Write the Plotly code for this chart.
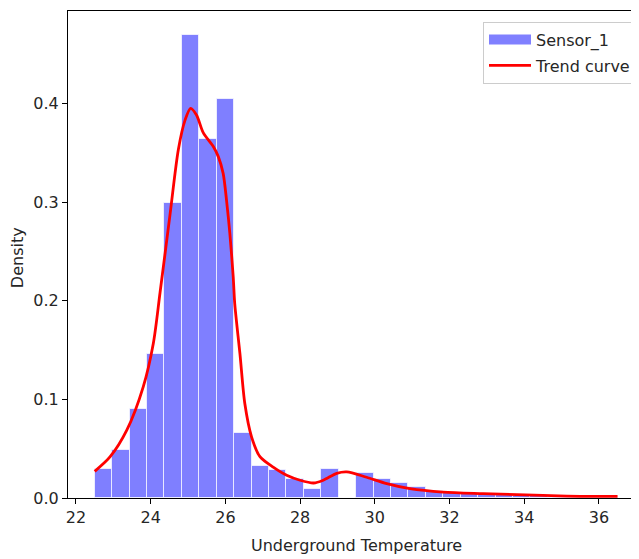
import plotly.graph_objects as go

# ---- data ----
bin_start = 22.5
bin_width = 0.46667
density = [0.0298, 0.0484, 0.090, 0.1457, 0.2986, 0.4693, 0.3635, 0.404,
           0.0659, 0.0325, 0.0288, 0.0197, 0.0095, 0.0298, 0.0, 0.025,
           0.019, 0.015, 0.011, 0.007, 0.005, 0.004, 0.003, 0.003,
           0.002, 0.002, 0.0015, 0.001, 0.001, 0.001]
bin_centers = [bin_start + bin_width * (i + 0.5) for i in range(len(density))]

curve_x = [22.5, 22.91, 23.36, 23.80, 24.07, 24.25, 24.52, 24.74, 24.92, 25.07,
           25.23, 25.41, 25.68, 25.81, 25.94, 26.03, 26.12, 26.21, 26.25, 26.39,
           26.52, 26.70, 26.93, 27.29, 27.64, 28.0, 28.36, 28.62, 28.98, 29.25,
           29.78, 30.32, 30.94, 31.83, 32.9, 33.8, 35.14, 36.5]
curve_y = [0.027, 0.0416, 0.0687, 0.1126, 0.1566, 0.208, 0.288, 0.353, 0.383, 0.395,
           0.388, 0.370, 0.356, 0.346, 0.329, 0.302, 0.268, 0.224, 0.197, 0.146,
           0.0957, 0.062, 0.0416, 0.031, 0.023, 0.018, 0.0152, 0.018, 0.025, 0.0265,
           0.021, 0.0146, 0.0095, 0.006, 0.0045, 0.0035, 0.002, 0.0017]

x_ticks = [22, 24, 26, 28, 30, 32, 34, 36]
y_ticks = [0.0, 0.1, 0.2, 0.3, 0.4]

FONT = "DejaVu Sans"
FS = 16
TXT = "#262626"
BAR_COLOR = "rgba(0,0,255,0.5)"

# page body has an 8px margin; figure is sized/offset to compensate
OFF = 8
W, H = 639 - OFF, 559 - OFF
L, T = 68 - OFF, 11 - OFF
BOTTOM = 497.7 - OFF
B = H - BOTTOM
PW, PH = W - L, BOTTOM - T

fig = go.Figure()
fig.add_trace(go.Bar(
    x=bin_centers, y=density, width=bin_width,
    marker=dict(color=BAR_COLOR, line=dict(color="rgba(255,255,255,0.7)", width=1)),
    showlegend=False, name="Sensor_1",
))
# legend entry for histogram (patch)
fig.add_trace(go.Scatter(
    x=[None], y=[None], mode="lines", name="Sensor_1",
    line=dict(color="#8080ff", width=12), legendgroup="a",
))
fig.add_trace(go.Scatter(
    x=curve_x, y=curve_y, mode="lines", name="Trend curve",
    line=dict(color="red", width=2.8, shape="spline", smoothing=0.8),
    legendgroup="b",
))

fig.update_layout(
    width=W, height=H,
    margin=dict(l=L, r=0, t=T, b=B, pad=0, autoexpand=False),
    plot_bgcolor="white", paper_bgcolor="white",
    font=dict(family=FONT, size=FS, color=TXT),
    bargap=0,
    legend=dict(
        x=(483 - 68) / PW, y=(497.7 - 21.7) / PH, xanchor="left", yanchor="top",
        bordercolor="#cccccc", borderwidth=1, bgcolor="rgba(255,255,255,0.8)",
        font=dict(family=FONT, size=FS, color=TXT),
        traceorder="grouped", tracegroupgap=2, itemwidth=42,
    ),
    xaxis=dict(
        range=[21.786, 37.074], tickvals=x_ticks, ticktext=[str(v) for v in x_ticks],
        showgrid=False, zeroline=False, showline=True, linecolor="black", linewidth=1,
        mirror=True, ticks="outside", ticklen=5, tickcolor="black",
        tickfont=dict(family=FONT, size=FS, color=TXT),
    ),
    yaxis=dict(
        range=[0, 0.4936], tickvals=y_ticks, ticktext=[f"{v:.1f}" for v in y_ticks],
        showgrid=False, zeroline=False, showline=True, linecolor="black", linewidth=1,
        mirror=False, ticks="outside", ticklen=5, tickcolor="black",
        tickfont=dict(family=FONT, size=FS, color=TXT),
    ),
    annotations=[
        dict(text="Underground Temperature", xref="paper", yref="paper",
             x=(356 - 68) / PW, y=(497.7 - 545) / PH, xanchor="center", yanchor="middle",
             showarrow=False, font=dict(family=FONT, size=FS, color=TXT)),
        dict(text="Density", xref="paper", yref="paper", textangle=-90,
             x=(17 - 68) / PW, y=(497.7 - 258) / PH, xanchor="center", yanchor="middle",
             showarrow=False, font=dict(family=FONT, size=FS, color=TXT)),
    ],
)

fig.write_html("out.html")
